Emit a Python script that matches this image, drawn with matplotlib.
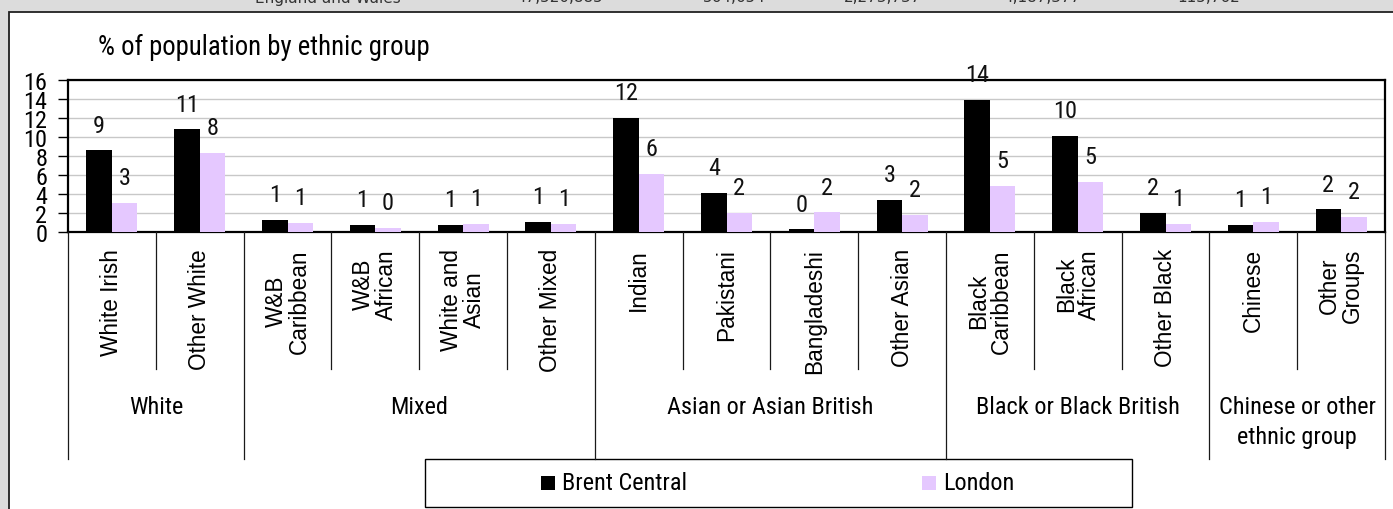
import matplotlib
matplotlib.use("Agg")
import matplotlib.pyplot as plt
import matplotlib.transforms as mtransforms
from matplotlib.patches import Rectangle
from matplotlib.lines import Line2D
from matplotlib import font_manager as fm
import numpy as np

# ---------------- data ----------------
categories = ["White Irish", "Other White", "W&B\nCaribbean", "W&B\nAfrican",
              "White and\nAsian", "Other Mixed", "Indian", "Pakistani",
              "Bangladeshi", "Other Asian", "Black\nCaribbean", "Black\nAfrican",
              "Other Black", "Chinese", "Other\nGroups"]
brent_central = [8.6, 10.8, 1.3, 0.8, 0.8, 1.1, 12.0, 4.1, 0.3, 3.4, 13.9, 10.1, 2.0, 0.8, 2.4]
london = [3.1, 8.3, 1.0, 0.45, 0.9, 0.9, 6.1, 2.0, 2.1, 1.8, 4.9, 5.3, 0.9, 1.1, 1.6]
groups = ["White", "Mixed", "Asian or Asian British", "Black or Black British",
          "Chinese or other\nethnic group"]
group_sizes = [2, 4, 4, 3, 2]
series_names = ["Brent Central", "London"]
yticks = [0, 2, 4, 6, 8, 10, 12, 14, 16]
title = "% of population by ethnic group"
header_label = "England and Wales"
header_values = ["47,520,885", "564,654", "2,273,737", "4,187,377", "115,762", "1"]

# ---------------- fonts ----------------
_fonts = fm.fontManager.ttflist
_names = {f.name for f in _fonts}
NARROW_KW = None
for cand in ["Liberation Sans Narrow", "Arial Narrow", "Roboto Condensed",
             "Open Sans Condensed", "Noto Sans Condensed", "DejaVu Sans Condensed"]:
    if cand in _names:
        NARROW_KW = dict(family=[cand, "DejaVu Sans"])
        NSCALE = 1.0
        break
if NARROW_KW is None:
    cond = [f for f in _fonts if f.stretch in ("condensed", "semi-condensed",
                                                 "extra-condensed", 300)
            or (isinstance(f.stretch, int) and f.stretch < 500)]
    pref = [f for f in cond if f.name in ("Liberation Sans", "DejaVu Sans", "Noto Sans",
                                          "Open Sans", "Roboto")]
    if pref:
        NARROW_KW = dict(family=[pref[0].name, "DejaVu Sans"], stretch="condensed")
        NSCALE = 1.0
    else:
        NARROW_KW = dict(family=["Liberation Sans", "DejaVu Sans"])
        NSCALE = 0.92
REG_KW = dict(family=["Liberation Sans", "DejaVu Sans"])

# ---------------- style ----------------
W, H = 1393, 510
DPI = 100
BLACK = "#000000"
PINK = "#E5C8FF"
GREY_BG = "#DCDCDC"

def fx(x):
    return x / W

def fy(y):
    return 1 - y / H

fig = plt.figure(figsize=(W / DPI, H / DPI), dpi=DPI)
fig.patch.set_facecolor(GREY_BG)

# white panel
panel = Rectangle((fx(8.5), fy(H + 20)), 1.2, fy(12.5) - fy(H + 20),
                  transform=fig.transFigure, facecolor="white",
                  edgecolor="#202020", linewidth=1.3, zorder=-5)
fig.patches.append(panel)

# clipped header row above the panel
hdr_y = fy(2.5)
fig.text(fx(255), hdr_y, header_label, ha="left", va="baseline",
         fontsize=11, color="#333333", family=["DejaVu Sans"])
hdr_right = [603, 766, 921, 1080, 1240, 1402]
for v, xr in zip(header_values, hdr_right):
    fig.text(fx(xr), hdr_y, v, ha="right", va="baseline", fontsize=11,
             color="#333333", family=["DejaVu Sans"])

# axes
ax_left, ax_right, ax_top, ax_bot = 68, 1385, 80.7, 233.3
ax = fig.add_axes([fx(ax_left), fy(ax_bot), (ax_right - ax_left) / W, (ax_bot - ax_top) / H])
ax.set_facecolor("white")
ax.set_zorder(2)

n = len(categories)
x = np.arange(n)
bw = 0.29
b1 = ax.bar(x - bw / 2, brent_central, bw, color=BLACK, zorder=3, label=series_names[0])
b2 = ax.bar(x + bw / 2, london, bw, color=PINK, zorder=3, label=series_names[1])

for bars, vals in ((b1, brent_central), (b2, london)):
    for rect, v in zip(bars, vals):
        ax.annotate(f"{round(v):d}" if v >= 0.5 else "0",
                    xy=(rect.get_x() + rect.get_width() / 2, v),
                    xytext=(0, 13.5), textcoords="offset points",
                    ha="center", va="baseline", fontsize=17.5 * NSCALE,
                    color="#111111", annotation_clip=False, zorder=5, **NARROW_KW)

ax.set_xlim(-0.5, n - 0.5)
ax.set_ylim(0, 16)
ax.set_yticks(yticks)
ax.set_yticklabels([str(t) for t in yticks], fontsize=17.5 * NSCALE, **NARROW_KW)
ax.tick_params(axis="y", direction="out", length=7, width=1, pad=8, colors="black")
ax.set_xticks([])
ax.grid(axis="y", color="#C8C8C8", linewidth=1, zorder=1)
ax.set_axisbelow(True)
for s in ax.spines.values():
    s.set_linewidth(1.6)
    s.set_color("black")

# category separators & labels
blend = mtransforms.blended_transform_factory(ax.transData, fig.transFigure)
group_bounds = set(np.cumsum([0] + group_sizes))
for k in range(n + 1):
    xb = k - 0.5
    y_end = 460 if k in group_bounds else 370
    fig.lines.append(Line2D([xb, xb], [fy(ax_bot), fy(y_end)], transform=blend,
                            color="#1a1a1a", linewidth=0.9))

for i, lab in enumerate(categories):
    fig.text(i, fy(249), lab, transform=blend, rotation=90, ha="center", va="top",
             multialignment="center", fontsize=16.3, color="black",
             linespacing=1.0, **REG_KW)

start = 0
for g, sz in zip(groups, group_sizes):
    cx = start + (sz - 1) / 2
    fig.text(cx, fy(396), g, transform=blend, ha="center", va="top",
             multialignment="center", fontsize=17.5 * NSCALE, color="black",
             linespacing=1.4, **NARROW_KW)
    start += sz

# title
fig.text(fx(98), fy(47), title, ha="left", va="center", fontsize=19.3 * NSCALE,
         color="black", **NARROW_KW)

# legend box
leg_box = Rectangle((fx(425), fy(508)), fx(1132) - fx(425), fy(460) - fy(508),
                    transform=fig.transFigure, facecolor="white",
                    edgecolor="black", linewidth=1.0, zorder=1)
fig.patches.append(leg_box)
for bars, name, hx in ((b1, series_names[0], 541), (b2, series_names[1], 922)):
    fig.patches.append(Rectangle((fx(hx), fy(491)), fx(14), fy(477) - fy(491),
                                 transform=fig.transFigure,
                                 facecolor=bars.patches[0].get_facecolor(),
                                 edgecolor="none", zorder=2))
    fig.text(fx(hx + 21), fy(484), name, ha="left", va="center", fontsize=17.5 * NSCALE,
             color="black", zorder=3, **NARROW_KW)

fig.savefig("out.png", dpi=DPI, facecolor=fig.get_facecolor())
